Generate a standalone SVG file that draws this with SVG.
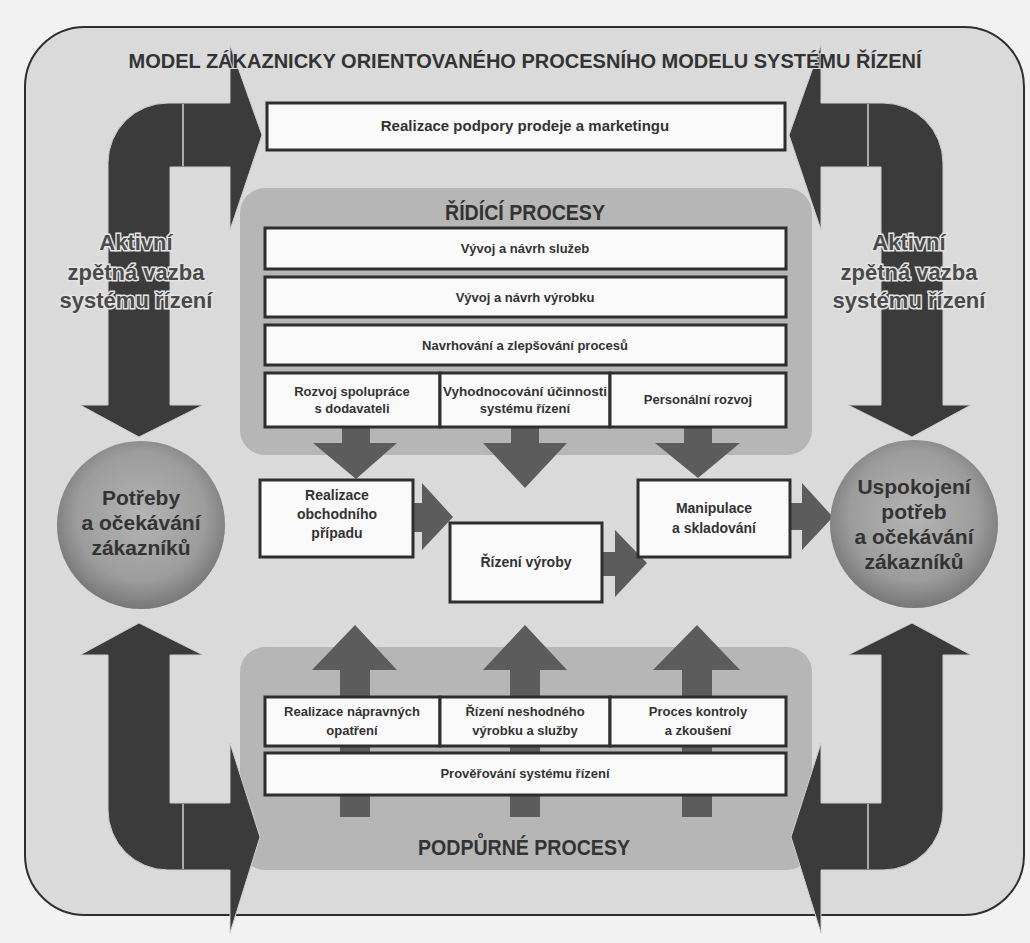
<svg xmlns="http://www.w3.org/2000/svg" width="1030" height="943" viewBox="0 0 1030 943">
<defs>
<radialGradient id="ball" cx="50%" cy="45%" r="55%">
<stop offset="0" stop-color="#b4b4b4"/>
<stop offset="0.7" stop-color="#9c9c9c"/>
<stop offset="1" stop-color="#777"/>
</radialGradient>
<style>
text{font-family:"Liberation Sans","DejaVu Sans",sans-serif;font-weight:bold;fill:#333;text-anchor:middle}
.box{fill:#fafafa;stroke:#2e2e2e;stroke-width:3}
.panel{fill:#b6b6b6}
.big{fill:#3b3b3b;stroke:#cfcfcf;stroke-width:1}
.proc{fill:#5c5c5c}
.sep{stroke:#d0d0d0;stroke-width:1.5}
.lbl{font-size:13px}
.mid{font-size:14px}
.fb{font-size:22px;fill:#4a4a4a;stroke:#e4e4e4;stroke-width:3;paint-order:stroke}
.ball{font-size:21px;fill:#333}
.ptitle{font-size:22px;fill:#333}
</style>
</defs>
<rect x="0" y="0" width="1030" height="943" fill="#f2f2f2"/>
<rect id="frame" x="25" y="27" width="999" height="888" rx="60" ry="60" fill="#dadada" stroke="#2e2e2e" stroke-width="2"/>

<g id="panel-ridici">
<rect class="panel" x="240" y="188" width="572" height="267" rx="25"/>
<text class="ptitle" x="525" y="220" textLength="160" lengthAdjust="spacingAndGlyphs">ŘÍDÍCÍ PROCESY</text>
</g>
<g id="panel-podpurne">
<rect class="panel" x="240" y="647" width="572" height="223" rx="25"/>
<text class="ptitle" x="524" y="855" font-size="24" textLength="212" lengthAdjust="spacingAndGlyphs">PODPŮRNÉ PROCESY</text>
</g>

<g id="connectors">
<path class="proc" d="M342,420 H370 V443 H397 L356,479 L313,443 H342 Z"/>
<path class="proc" d="M511,420 H539 V443 H567 L525,488 L483,443 H511 Z"/>
<path class="proc" d="M684,420 H712 V443 H740 L698,478 L655,443 H684 Z"/>
<path class="proc" d="M412,503 H422 V483 L453,517 L422,550 V532 H412 Z"/>
<path class="proc" d="M601,552 H615 V530 L647,563 L615,597 V576 H601 Z"/>
<path class="proc" d="M789,503 H802 V483 L833,517 L802,550 V530 H789 Z"/>
<path class="proc" d="M340,817 V670 H312 L355,625 L397,670 H370 V817 Z"/>
<path class="proc" d="M510,817 V670 H483 L525,625 L567,670 H540 V817 Z"/>
<path class="proc" d="M682,817 V670 H653 L697,625 L740,670 H712 V817 Z"/>
</g>

<g id="row-sluzby">
<rect class="box" x="265" y="228" width="521" height="41"/>
<text class="lbl" x="525" y="253">Vývoj a návrh služeb</text>
</g>
<g id="row-vyrobek">
<rect class="box" x="265" y="277" width="521" height="40"/>
<text class="lbl" x="525" y="302">Vývoj a návrh výrobku</text>
</g>
<g id="row-procesy">
<rect class="box" x="265" y="325" width="521" height="40"/>
<text class="lbl" x="525" y="350">Navrhování a zlepšování procesů</text>
</g>
<g id="cell-dodavatele">
<rect class="box" x="265" y="373" width="175" height="54"/>
<text class="lbl" x="352" y="396">Rozvoj spolupráce</text>
<text class="lbl" x="352" y="413">s dodavateli</text>
</g>
<g id="cell-ucinnost">
<rect class="box" x="440" y="373" width="170" height="54"/>
<text class="lbl" x="525" y="396" textLength="164" lengthAdjust="spacingAndGlyphs">Vyhodnocování účinnosti</text>
<text class="lbl" x="525" y="413">systému řízení</text>
</g>
<g id="cell-personal">
<rect class="box" x="610" y="373" width="176" height="54"/>
<text class="lbl" x="698" y="404">Personální rozvoj</text>
</g>

<g id="obchodni-pripad">
<rect class="box" x="260" y="480" width="153" height="77"/>
<text class="mid" x="337" y="500">Realizace</text>
<text class="mid" x="337" y="519">obchodního</text>
<text class="mid" x="337" y="538">případu</text>
</g>
<g id="rizeni-vyroby">
<rect class="box" x="450" y="523" width="152" height="79"/>
<text class="mid" x="526" y="567">Řízení výroby</text>
</g>
<g id="manipulace">
<rect class="box" x="638" y="480" width="152" height="77"/>
<text class="mid" x="714" y="513">Manipulace</text>
<text class="mid" x="714" y="533">a skladování</text>
</g>

<g id="cell-napravna">
<rect class="box" x="265" y="697" width="175" height="49"/>
<text class="lbl" x="352" y="716">Realizace nápravných</text>
<text class="lbl" x="352" y="735">opatření</text>
</g>
<g id="cell-neshoda">
<rect class="box" x="440" y="697" width="170" height="49"/>
<text class="lbl" x="525" y="716">Řízení neshodného</text>
<text class="lbl" x="525" y="735">výrobku a služby</text>
</g>
<g id="cell-kontrola">
<rect class="box" x="610" y="697" width="176" height="49"/>
<text class="lbl" x="698" y="716">Proces kontroly</text>
<text class="lbl" x="698" y="735">a zkoušení</text>
</g>
<g id="proverovani">
<rect class="box" x="265" y="753" width="521" height="42"/>
<text class="lbl" x="525" y="778">Prověřování systému řízení</text>
</g>

<g id="feedback-arrows">
<path class="big" d="M80,405 L139,437 L203,405 H170 V167 H230 V230 L262,135 L230,45 V103 H168 A60,60 0 0 0 108,163 V405 Z"/>
<line class="sep" x1="183" y1="104" x2="183" y2="166"/>
<g transform="translate(1051,0) scale(-1,1)">
<path class="big" d="M80,405 L139,437 L203,405 H170 V167 H230 V230 L262,135 L230,45 V103 H168 A60,60 0 0 0 108,163 V405 Z"/>
<line class="sep" x1="183" y1="104" x2="183" y2="166"/>
</g>
<path class="big" d="M139,623 L203,655 H170 V803 H230 V743 L260,837 L230,933 V870 H168 A60,60 0 0 1 108,810 V655 H80 Z"/>
<line class="sep" x1="183" y1="804" x2="183" y2="869"/>
<g transform="translate(1051,0) scale(-1,1)">
<path class="big" d="M139,623 L203,655 H170 V803 H230 V743 L260,837 L230,933 V870 H168 A60,60 0 0 1 108,810 V655 H80 Z"/>
<line class="sep" x1="183" y1="804" x2="183" y2="869"/>
</g>
</g>

<g id="title">
<text x="525" y="68" font-size="20" style="fill:#333;stroke:#dadada;stroke-width:2;paint-order:stroke">MODEL ZÁKAZNICKY ORIENTOVANÉHO PROCESNÍHO MODELU SYSTÉMU ŘÍZENÍ</text>
</g>

<g id="marketing">
<rect class="box" x="267" y="103" width="518" height="47"/>
<text x="525" y="131" font-size="15">Realizace podpory prodeje a marketingu</text>
</g>

<g id="feedback-left-label">
<text class="fb" x="136" y="250">Aktivní</text>
<text class="fb" x="136" y="280">zpětná vazba</text>
<text class="fb" x="136" y="308">systému řízení</text>
</g>
<g id="feedback-right-label">
<text class="fb" x="909" y="250">Aktivní</text>
<text class="fb" x="909" y="280">zpětná vazba</text>
<text class="fb" x="909" y="308">systému řízení</text>
</g>

<g id="potreby">
<circle cx="141" cy="525" r="84" fill="url(#ball)"/>
<text class="ball" x="141" y="505">Potřeby</text>
<text class="ball" x="141" y="530">a očekávání</text>
<text class="ball" x="141" y="555">zákazníků</text>
</g>
<g id="uspokojeni">
<circle cx="914" cy="524" r="84" fill="url(#ball)"/>
<text class="ball" x="914" y="494">Uspokojení</text>
<text class="ball" x="914" y="519">potřeb</text>
<text class="ball" x="914" y="544">a očekávání</text>
<text class="ball" x="914" y="569">zákazníků</text>
</g>
</svg>
